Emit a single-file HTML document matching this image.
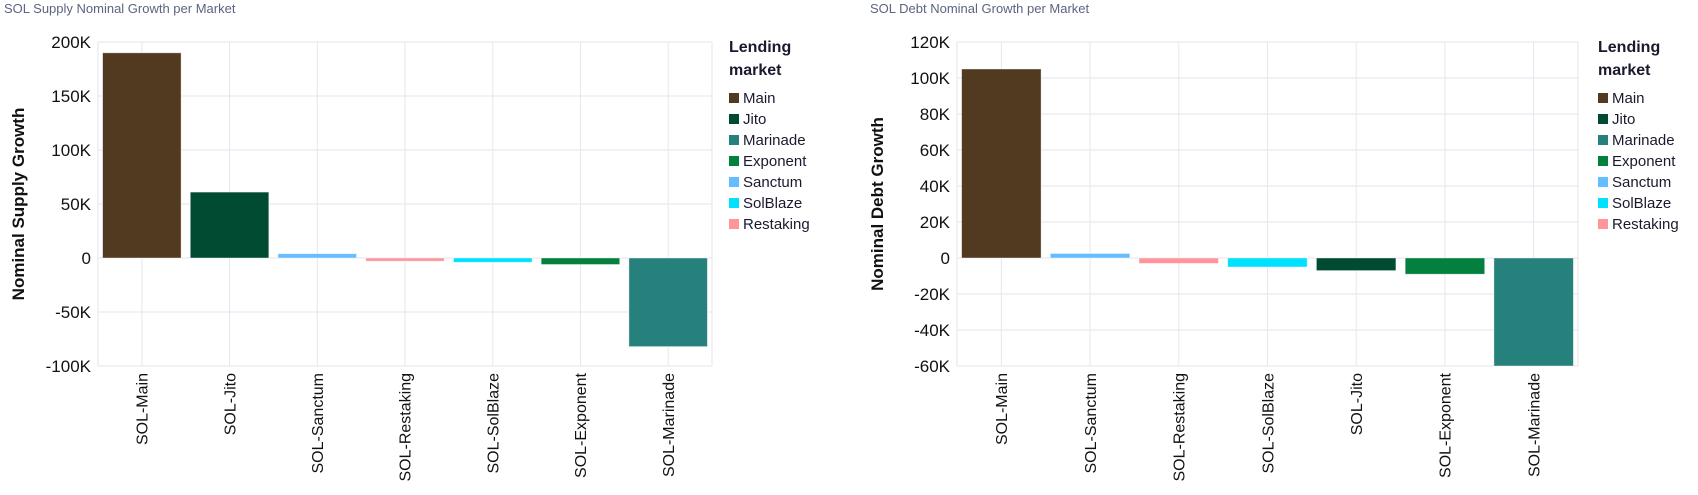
<!DOCTYPE html>
<html><head><meta charset="utf-8"><style>
html,body{margin:0;padding:0;background:#fff;}
svg{display:block;font-family:"Liberation Sans",sans-serif;}
.t{fill:#5b6481;font-size:13px;}
.tk{fill:#111;font-size:17px;text-anchor:end;}
.xl{fill:#111;font-size:16px;text-anchor:end;}
.at{fill:#111;font-size:17px;font-weight:bold;text-anchor:middle;}
.lt{fill:#1a1a2e;font-size:16px;font-weight:bold;}
.li{fill:#1a1a2e;font-size:15px;}
.g{stroke:#e6e6ee;stroke-width:1;}
rect.b{stroke:rgba(255,255,255,0.5);stroke-width:0.8;}
</style></head><body>
<svg width="1698" height="495" viewBox="0 0 1698 495">
<text class="t" x="4" y="13">SOL Supply Nominal Growth per Market</text>
<g class="g">
<line x1="98" x2="712" y1="42" y2="42"/><line x1="98" x2="712" y1="96" y2="96"/><line x1="98" x2="712" y1="150" y2="150"/><line x1="98" x2="712" y1="204" y2="204"/><line x1="98" x2="712" y1="258" y2="258"/><line x1="98" x2="712" y1="312" y2="312"/><line x1="98" x2="712" y1="366" y2="366"/>
<line x1="98" x2="98" y1="42" y2="366"/><line x1="712" x2="712" y1="42" y2="366"/>
<line x1="141.9" x2="141.9" y1="42" y2="366"/><line x1="229.6" x2="229.6" y1="42" y2="366"/><line x1="317.3" x2="317.3" y1="42" y2="366"/><line x1="405" x2="405" y1="42" y2="366"/><line x1="492.8" x2="492.8" y1="42" y2="366"/><line x1="580.5" x2="580.5" y1="42" y2="366"/><line x1="668.2" x2="668.2" y1="42" y2="366"/>
</g>
<text class="tk" x="91" y="48">200K</text><text class="tk" x="91" y="102">150K</text><text class="tk" x="91" y="156">100K</text><text class="tk" x="91" y="210">50K</text><text class="tk" x="91" y="264">0</text><text class="tk" x="91" y="318">-50K</text><text class="tk" x="91" y="372">-100K</text>
<text class="at" transform="translate(24,204) rotate(-90)">Nominal Supply Growth</text>
<rect class="b" x="102.6" y="52.8" width="78.5" height="205.2" fill="#523a21"/>
<rect class="b" x="190.3" y="192.1" width="78.5" height="65.9" fill="#024b33"/>
<rect class="b" x="278" y="253.7" width="78.5" height="4.3" fill="#63bdff"/>
<rect class="b" x="365.7" y="258" width="78.5" height="3.2" fill="#ff9499"/>
<rect class="b" x="453.5" y="258" width="78.5" height="4.3" fill="#00e0ff"/>
<rect class="b" x="541.2" y="258" width="78.5" height="6.5" fill="#037f3e"/>
<rect class="b" x="628.9" y="258" width="78.5" height="88.6" fill="#26807c"/>
<g>
<text class="xl" transform="translate(147.5,373) rotate(-90)">SOL-Main</text>
<text class="xl" transform="translate(235.5,373) rotate(-90)">SOL-Jito</text>
<text class="xl" transform="translate(323,373) rotate(-90)">SOL-Sanctum</text>
<text class="xl" transform="translate(410.5,373) rotate(-90)">SOL-Restaking</text>
<text class="xl" transform="translate(498.5,373) rotate(-90)">SOL-SolBlaze</text>
<text class="xl" transform="translate(586,373) rotate(-90)">SOL-Exponent</text>
<text class="xl" transform="translate(674,373) rotate(-90)">SOL-Marinade</text>
</g>
<text class="lt" x="729" y="52">Lending</text><text class="lt" x="729" y="75">market</text>
<rect x="729" y="93" width="10" height="10" fill="#523a21"/><text class="li" x="743" y="103">Main</text>
<rect x="729" y="114" width="10" height="10" fill="#024b33"/><text class="li" x="743" y="124">Jito</text>
<rect x="729" y="135" width="10" height="10" fill="#26807c"/><text class="li" x="743" y="145">Marinade</text>
<rect x="729" y="156" width="10" height="10" fill="#037f3e"/><text class="li" x="743" y="166">Exponent</text>
<rect x="729" y="177" width="10" height="10" fill="#63bdff"/><text class="li" x="743" y="187">Sanctum</text>
<rect x="729" y="198" width="10" height="10" fill="#00e0ff"/><text class="li" x="743" y="208">SolBlaze</text>
<rect x="729" y="219" width="10" height="10" fill="#ff9499"/><text class="li" x="743" y="229">Restaking</text>

<text class="t" x="870" y="13">SOL Debt Nominal Growth per Market</text>
<g class="g">
<line x1="957" x2="1578" y1="42" y2="42"/><line x1="957" x2="1578" y1="78" y2="78"/><line x1="957" x2="1578" y1="114" y2="114"/><line x1="957" x2="1578" y1="150" y2="150"/><line x1="957" x2="1578" y1="186" y2="186"/><line x1="957" x2="1578" y1="222" y2="222"/><line x1="957" x2="1578" y1="258" y2="258"/><line x1="957" x2="1578" y1="294" y2="294"/><line x1="957" x2="1578" y1="330" y2="330"/><line x1="957" x2="1578" y1="366" y2="366"/>
<line x1="957" x2="957" y1="42" y2="366"/><line x1="1578" x2="1578" y1="42" y2="366"/>
<line x1="1001.4" x2="1001.4" y1="42" y2="366"/><line x1="1090.1" x2="1090.1" y1="42" y2="366"/><line x1="1178.8" x2="1178.8" y1="42" y2="366"/><line x1="1267.5" x2="1267.5" y1="42" y2="366"/><line x1="1356.2" x2="1356.2" y1="42" y2="366"/><line x1="1444.9" x2="1444.9" y1="42" y2="366"/><line x1="1533.6" x2="1533.6" y1="42" y2="366"/>
</g>
<text class="tk" x="950" y="48">120K</text><text class="tk" x="950" y="84">100K</text><text class="tk" x="950" y="120">80K</text><text class="tk" x="950" y="156">60K</text><text class="tk" x="950" y="192">40K</text><text class="tk" x="950" y="228">20K</text><text class="tk" x="950" y="264">0</text><text class="tk" x="950" y="300">-20K</text><text class="tk" x="950" y="336">-40K</text><text class="tk" x="950" y="372">-60K</text>
<text class="at" transform="translate(883,204) rotate(-90)">Nominal Debt Growth</text>
<rect class="b" x="961.6" y="69" width="79.5" height="189" fill="#523a21"/>
<rect class="b" x="1050.3" y="253.5" width="79.5" height="4.5" fill="#63bdff"/>
<rect class="b" x="1139" y="258" width="79.5" height="5.4" fill="#ff9499"/>
<rect class="b" x="1227.7" y="258" width="79.5" height="9" fill="#00e0ff"/>
<rect class="b" x="1316.4" y="258" width="79.5" height="12.6" fill="#024b33"/>
<rect class="b" x="1405.2" y="258" width="79.5" height="16.2" fill="#037f3e"/>
<rect class="b" x="1493.9" y="258" width="79.5" height="108" fill="#26807c"/>
<g>
<text class="xl" transform="translate(1007,373) rotate(-90)">SOL-Main</text>
<text class="xl" transform="translate(1096,373) rotate(-90)">SOL-Sanctum</text>
<text class="xl" transform="translate(1184.5,373) rotate(-90)">SOL-Restaking</text>
<text class="xl" transform="translate(1273.5,373) rotate(-90)">SOL-SolBlaze</text>
<text class="xl" transform="translate(1362,373) rotate(-90)">SOL-Jito</text>
<text class="xl" transform="translate(1450.5,373) rotate(-90)">SOL-Exponent</text>
<text class="xl" transform="translate(1539.5,373) rotate(-90)">SOL-Marinade</text>
</g>
<text class="lt" x="1598" y="52">Lending</text><text class="lt" x="1598" y="75">market</text>
<rect x="1598" y="93" width="10" height="10" fill="#523a21"/><text class="li" x="1612" y="103">Main</text>
<rect x="1598" y="114" width="10" height="10" fill="#024b33"/><text class="li" x="1612" y="124">Jito</text>
<rect x="1598" y="135" width="10" height="10" fill="#26807c"/><text class="li" x="1612" y="145">Marinade</text>
<rect x="1598" y="156" width="10" height="10" fill="#037f3e"/><text class="li" x="1612" y="166">Exponent</text>
<rect x="1598" y="177" width="10" height="10" fill="#63bdff"/><text class="li" x="1612" y="187">Sanctum</text>
<rect x="1598" y="198" width="10" height="10" fill="#00e0ff"/><text class="li" x="1612" y="208">SolBlaze</text>
<rect x="1598" y="219" width="10" height="10" fill="#ff9499"/><text class="li" x="1612" y="229">Restaking</text>
</svg>
</body></html>
